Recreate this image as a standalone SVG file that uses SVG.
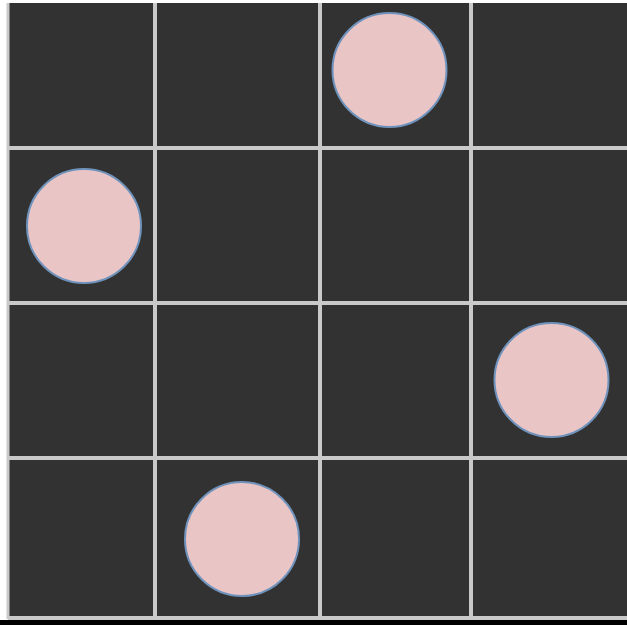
<svg xmlns="http://www.w3.org/2000/svg" width="627" height="625" viewBox="0 0 627 625">
<style>
.grid{stroke:#c9c9c9;stroke-width:4;fill:none}
.q{fill:#eac5c5;stroke:#6f93bd;stroke-width:2}
</style>
<rect x="0" y="0" width="627" height="625" fill="#ffffff"/>
<rect x="8" y="3" width="619" height="617" fill="#323232"/>
<rect x="0" y="620" width="627" height="5" fill="#000000"/>
<g id="grid" class="grid">
<line x1="8" y1="3" x2="8" y2="619" stroke-width="3"/>
<line x1="155" y1="3" x2="155" y2="619"/>
<line x1="320" y1="3" x2="320" y2="619"/>
<line x1="471" y1="3" x2="471" y2="619"/>
<line x1="8" y1="148" x2="627" y2="148"/>
<line x1="8" y1="303" x2="627" y2="303"/>
<line x1="8" y1="458" x2="627" y2="458"/>
<line x1="8" y1="618" x2="627" y2="618"/>
</g>
<g id="q1"><circle class="q" cx="389.5" cy="70" r="57"/></g>
<g id="q2"><circle class="q" cx="84" cy="226" r="57"/></g>
<g id="q3"><circle class="q" cx="551.5" cy="380" r="57"/></g>
<g id="q4"><circle class="q" cx="242" cy="539" r="57"/></g>
</svg>
